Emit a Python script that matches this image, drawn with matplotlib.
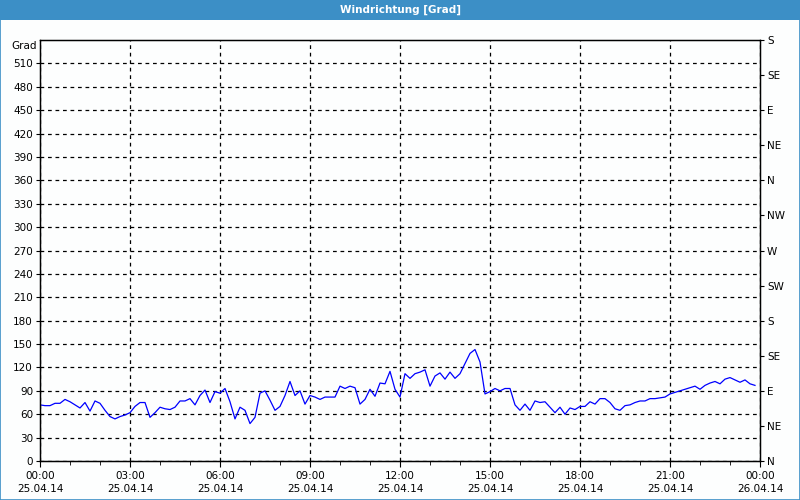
import matplotlib
matplotlib.use("Agg")
import matplotlib.pyplot as plt
import matplotlib.dates as mdates
from matplotlib.patches import Rectangle
import numpy as np
import pandas as pd

# wind direction, 10-minute values on 25.04.14
direction = [72, 71, 71, 74, 74, 79, 76, 72, 68, 75, 64, 77, 74, 65, 57, 54, 57, 59, 62, 70,
             75, 75, 56, 62, 69, 67, 66, 69, 77, 77, 80, 72, 84, 91, 75, 89, 87, 93, 76, 54,
             69, 65, 48, 56, 87, 90, 78,
             65, 70, 84, 102, 84, 90, 73, 84, 82, 79, 82, 82, 82, 96, 93, 96, 94, 73, 79, 92,
             83, 100, 99, 115, 92, 82, 112, 106, 112, 114, 117, 96, 109, 113, 105, 114, 106,
             112, 125, 138, 143, 127, 86, 89, 93, 90, 93, 93, 72,
             65, 73, 65, 77, 75, 76, 69, 62, 69, 60, 68, 66, 70, 70, 76, 73, 80, 80, 75, 67,
             65, 71, 72, 75, 77, 77, 80, 80, 81, 82, 86, 88, 90, 92, 94, 96, 92, 97, 100, 102,
             99, 105, 107, 104, 101, 104, 99, 97]
times = pd.date_range("2014-04-25 00:00", periods=len(direction), freq="10min")

grad_ticks = list(range(0, 540, 30))
compass_labels = ["N", "NE", "E", "SE", "S", "SW", "W", "NW", "N", "NE", "E", "SE", "S"]
compass_ticks = [45 * i for i in range(len(compass_labels))]

plt.rcParams["font.family"] = ["DejaVu Sans"]
fig = plt.figure(figsize=(8, 5), dpi=100, facecolor="#fdfefe")

# title bar and border
fig.patches.append(Rectangle((0, 0.96), 1, 0.04, transform=fig.transFigure,
                             facecolor="#3c8fc6", edgecolor="none"))
fig.patches.append(Rectangle((0.0006, 0.001), 0.9988, 0.998, transform=fig.transFigure,
                             facecolor="none", edgecolor="#3c8fc6", linewidth=1.2))
fig.text(0.5, 0.98, "Windrichtung [Grad]", color="white", fontsize=7.5,
         fontweight="bold", ha="center", va="center")

ax = fig.add_axes([0.05, 0.078, 0.9, 0.842])
ax.set_facecolor("#fdfefe")
ax.plot(times, direction, color="blue", linewidth=0.9)

start = pd.Timestamp("2014-04-25 00:00")
end = pd.Timestamp("2014-04-26 00:00")
ax.set_xlim(start, end)
ax.set_ylim(0, 540)

ax.xaxis.set_major_locator(mdates.HourLocator(byhour=range(0, 24, 3)))
ax.xaxis.set_minor_locator(mdates.HourLocator())
ax.xaxis.set_major_formatter(mdates.DateFormatter("%H:%M\n%d.%m.%y"))
ax.set_yticks(grad_ticks)

ax.tick_params(axis="both", which="both", labelsize=7.5, direction="out", color="black")
ax.tick_params(axis="x", which="major", length=4, pad=3)
ax.tick_params(axis="x", which="minor", length=3)
ax.tick_params(axis="y", length=3, pad=2)
for lbl in ax.get_xticklabels():
    lbl.set_linespacing(1.45)

ax.grid(True, which="major", color="black", linestyle=(0, (3, 3)), linewidth=0.9)
for sp in ax.spines.values():
    sp.set_color("black")
    sp.set_linewidth(1)

ax.text(-0.005, 0.985, "Grad", transform=ax.transAxes, ha="right", va="center",
        fontsize=7.5)

ax2 = ax.twinx()
ax2.set_ylim(0, 540)
ax2.set_yticks(compass_ticks)
ax2.set_yticklabels(compass_labels)
ax2.tick_params(axis="y", labelsize=7.5, length=3, pad=2, direction="out")
for sp in ax2.spines.values():
    sp.set_color("black")

fig.savefig("out.png", dpi=100, facecolor=fig.get_facecolor())
